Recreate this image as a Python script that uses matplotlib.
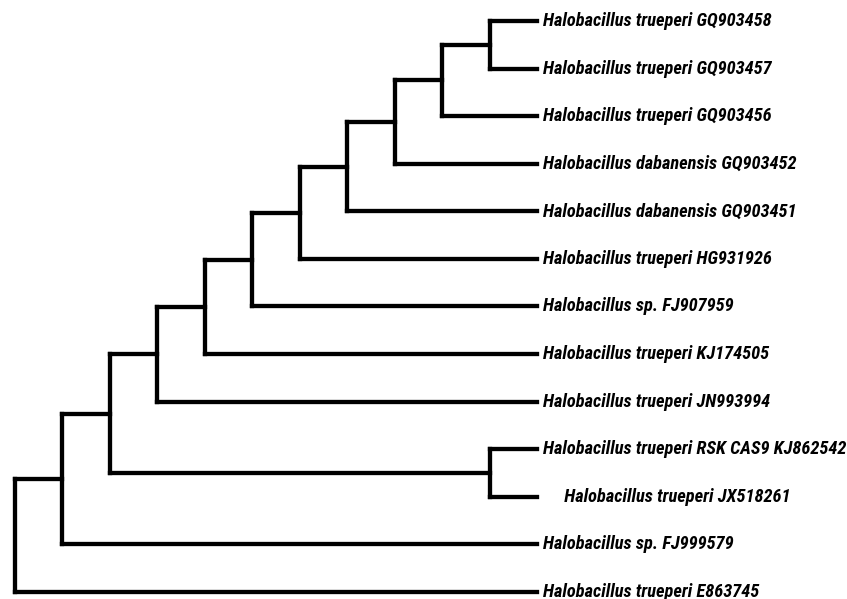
import matplotlib
matplotlib.use("Agg")
import matplotlib.pyplot as plt

# leaf names, top to bottom
labels = [
    "Halobacillus trueperi GQ903458",
    "Halobacillus trueperi GQ903457",
    "Halobacillus trueperi GQ903456",
    "Halobacillus dabanensis GQ903452",
    "Halobacillus dabanensis GQ903451",
    "Halobacillus trueperi HG931926",
    "Halobacillus sp. FJ907959",
    "Halobacillus trueperi KJ174505",
    "Halobacillus trueperi JN993994",
    "Halobacillus trueperi RSK CAS9 KJ862542",
    "     Halobacillus trueperi JX518261",
    "Halobacillus sp. FJ999579",
    "Halobacillus trueperi E863745",
]

# topology as nested tuples of leaf indices
tree = ((((((((((((0, 1), 2), 3), 4), 5), 6), 7), 8), (9, 10)), 11), 12))


def height(node):
    if isinstance(node, int):
        return 0
    return 1 + max(height(c) for c in node)


n_levels = height(tree)
segments = []


def layout(node):
    # returns (x, y) of the node; leaves aligned at the right
    if isinstance(node, int):
        return n_levels, node
    x = n_levels - height(node)
    kids = [layout(c) for c in node]
    ys = [k[1] for k in kids]
    segments.append(([x, x], [min(ys), max(ys)]))
    for kx, ky in kids:
        segments.append(([x, kx], [ky, ky]))
    return x, sum(ys) / len(ys)


layout(tree)

fig = plt.figure(figsize=(8.47, 5.99), dpi=100)
ax = fig.add_axes([0, 0, 1, 1])

for xs, ys in segments:
    ax.plot(xs, ys, color="black", lw=3.1, solid_capstyle="projecting")

for i, name in enumerate(labels):
    ax.text(n_levels + 0.13, i, name, va="center", ha="left",
            fontsize=13.2, fontweight="bold", fontstyle="italic",
            family=["Roboto Condensed", "Liberation Sans", "DejaVu Sans"])

ax.set_xlim(-0.316, 17.53)
ax.set_ylim(12.147, -0.441)
ax.axis("off")

fig.savefig("out.png", dpi=100, facecolor="white")
